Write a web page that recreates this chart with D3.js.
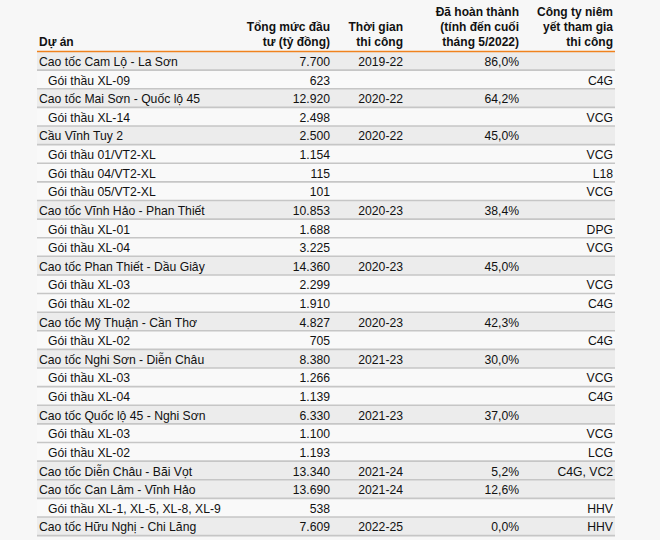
<!DOCTYPE html>
<html>
<head>
<meta charset="utf-8">
<script src="https://cdn.jsdelivr.net/npm/d3@7"></script>
<style>
  body { margin: 0; background: #f7f7f7; }
  svg { display: block; font-family: "Liberation Sans", Arial, sans-serif; }
</style>
</head>
<body>
<div id="chart-area"></div>
<script>
// table content
var projects = [
  "Cao tốc Cam Lộ - La Sơn", "Gói thầu XL-09",
  "Cao tốc Mai Sơn - Quốc lộ 45", "Gói thầu XL-14",
  "Cầu Vĩnh Tuy 2", "Gói thầu 01/VT2-XL", "Gói thầu 04/VT2-XL", "Gói thầu 05/VT2-XL",
  "Cao tốc Vĩnh Hảo - Phan Thiết", "Gói thầu XL-01", "Gói thầu XL-04",
  "Cao tốc Phan Thiết - Dầu Giây", "Gói thầu XL-03", "Gói thầu XL-02",
  "Cao tốc Mỹ Thuận - Cần Thơ", "Gói thầu XL-02",
  "Cao tốc Nghi Sơn - Diễn Châu", "Gói thầu XL-03", "Gói thầu XL-04",
  "Cao tốc Quốc lộ 45 - Nghi Sơn", "Gói thầu XL-03", "Gói thầu XL-02",
  "Cao tốc Diễn Châu - Bãi Vọt",
  "Cao tốc Can Lâm - Vĩnh Hảo", "Gói thầu XL-1, XL-5, XL-8, XL-9",
  "Cao tốc Hữu Nghị - Chi Lăng"
]
// 1 = project row, 0 = package row
var isProject = [1,0, 1,0, 1,0,0,0, 1,0,0, 1,0,0, 1,0, 1,0,0, 1,0,0, 1, 1,0, 1]
var investment = ["7.700","623","12.920","2.498","2.500","1.154","115","101",
  "10.853","1.688","3.225","14.360","2.299","1.910","4.827","705",
  "8.380","1.266","1.139","6.330","1.100","1.193","13.340","13.690","538","7.609"]
var period = ["2019-22","","2020-22","","2020-22","","","",
  "2020-23","","","2020-23","","","2020-23","",
  "2021-23","","","2021-23","","","2021-24","2021-24","","2022-25"]
var completed = ["86,0%","","64,2%","","45,0%","","","",
  "38,4%","","","45,0%","","","42,3%","",
  "30,0%","","","37,0%","","","5,2%","12,6%","","0,0%"]
var contractors = ["","C4G","","VCG","","VCG","L18","VCG",
  "","DPG","VCG","","VCG","C4G","","C4G",
  "","VCG","C4G","","VCG","LCG","C4G, VC2","","HHV","HHV"]

var headers = [
  ["Dự án"],
  ["Tổng mức đầu", "tư (tỷ đồng)"],
  ["Thời gian", "thi công"],
  ["Đã hoàn thành", "(tính đến cuối", "tháng 5/2022)"],
  ["Công ty niêm", "yết tham gia", "thi công"]
]

var width = 660, height = 540
var tableLeft = 37, tableRight = 615
var tableTop = 51.5, rowH = 18.62

var svg = d3.select("#chart-area").append("svg")
    .attr("width", width)
    .attr("height", height)

var rows = d3.range(projects.length)
var y = d3.scaleBand()
    .domain(rows)
    .range([tableTop, tableTop + rowH * rows.length])

// right edges of the columns (first one is left aligned)
var colX = [tableLeft + 2, 330, 403, 519, 613]

// row backgrounds
svg.selectAll("rect.row")
    .data(rows)
    .enter()
    .append("rect")
    .attr("class", "row")
    .attr("x", tableLeft)
    .attr("y", function(d){ return y(d) })
    .attr("width", tableRight - tableLeft)
    .attr("height", y.bandwidth())
    .attr("fill", function(d){ return isProject[d] ? "#ececec" : "#f9f9f9" })

// separators
svg.selectAll("line.sep")
    .data(rows)
    .enter()
    .append("line")
    .attr("class", "sep")
    .attr("x1", tableLeft)
    .attr("x2", tableRight)
    .attr("y1", function(d){ return y(d) + y.bandwidth() })
    .attr("y2", function(d){ return y(d) + y.bandwidth() })
    .attr("stroke", "#c6c6c6")
    .attr("stroke-width", 1.6)

// orange line under header
svg.append("line")
    .attr("x1", tableLeft).attr("x2", tableRight)
    .attr("y1", tableTop).attr("y2", tableTop)
    .attr("stroke", "#f0821e")
    .attr("stroke-width", 1.5)

// header
headers.forEach(function(lines, c){
    var n = lines.length
    lines.forEach(function(t, i){
        svg.append("text")
            .attr("x", colX[c])
            .attr("y", 46 - (n - 1 - i) * 15)
            .attr("text-anchor", c == 0 ? "start" : "end")
            .attr("font-size", 12)
            .attr("font-weight", "bold")
            .attr("fill", "#111")
            .text(t)
    })
})

// body cells
var columns = [projects, investment, period, completed, contractors]
columns.forEach(function(col, c){
    svg.selectAll("text.c" + c)
        .data(rows)
        .enter()
        .append("text")
        .attr("class", "c" + c)
        .attr("x", function(d){
            if (c == 0 && !isProject[d]) return colX[0] + 9
            return colX[c]
        })
        .attr("y", function(d){ return y(d) + y.bandwidth() / 2 })
        .attr("dy", "0.42em")
        .attr("text-anchor", c == 0 ? "start" : "end")
        .attr("font-size", 12.2)
        .attr("fill", "#111")
        .text(function(d){ return col[d] })
})
</script>
</body>
</html>
